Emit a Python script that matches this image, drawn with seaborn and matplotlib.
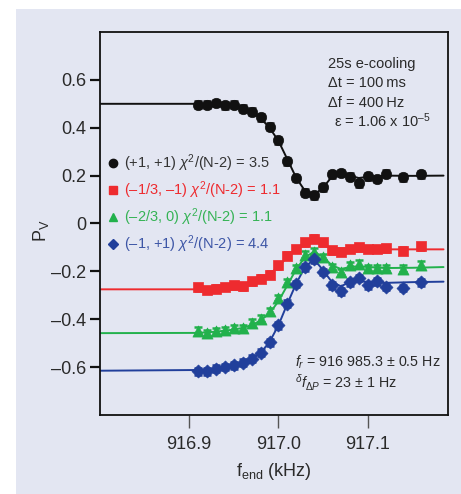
import numpy as np
import pandas as pd
import matplotlib
matplotlib.use("Agg")
import matplotlib.pyplot as plt
from matplotlib.lines import Line2D
from matplotlib.patches import Rectangle
import seaborn as sns

# ---------------- data ----------------
f_meas = [916.91, 916.92, 916.93, 916.94, 916.95, 916.96, 916.97, 916.98, 916.99,
          917.00, 917.01, 917.02, 917.03, 917.04, 917.05, 917.06, 917.07, 917.08,
          917.09, 917.10, 917.11, 917.12, 917.14, 917.16]

p_black = [0.497, 0.497, 0.503, 0.493, 0.496, 0.479, 0.467, 0.444, 0.404, 0.347,
           0.260, 0.190, 0.129, 0.117, 0.151, 0.206, 0.211, 0.196, 0.168, 0.197,
           0.186, 0.208, 0.193, 0.206]
p_red = [-0.266, -0.278, -0.273, -0.265, -0.259, -0.262, -0.241, -0.231, -0.214, -0.174,
         -0.135, -0.106, -0.078, -0.064, -0.079, -0.112, -0.117, -0.107, -0.100, -0.107,
         -0.107, -0.104, -0.113, -0.096]
p_green = [-0.447, -0.457, -0.451, -0.446, -0.436, -0.436, -0.415, -0.397, -0.367, -0.311,
           -0.246, -0.186, -0.130, -0.117, -0.140, -0.182, -0.203, -0.175, -0.168, -0.186,
           -0.186, -0.186, -0.189, -0.172]
p_blue = [-0.617, -0.617, -0.607, -0.599, -0.592, -0.582, -0.564, -0.540, -0.496, -0.426,
          -0.335, -0.253, -0.183, -0.149, -0.203, -0.258, -0.283, -0.246, -0.228, -0.258,
          -0.242, -0.265, -0.269, -0.246]

# fit curves
f_fit = [916.80, 916.91, 916.93, 916.95, 916.96, 916.97, 916.98, 916.99, 917.00,
         917.01, 917.02, 917.03, 917.04, 917.05, 917.06, 917.07, 917.08, 917.09,
         917.10, 917.12, 917.15, 917.185]
fit_black = [0.500, 0.500, 0.500, 0.493, 0.482, 0.466, 0.440, 0.400, 0.345,
             0.268, 0.190, 0.135, 0.120, 0.150, 0.196, 0.210, 0.200, 0.190,
             0.195, 0.200, 0.199, 0.200]
fit_red = [-0.275, -0.275, -0.272, -0.265, -0.258, -0.248, -0.233, -0.212, -0.180,
           -0.140, -0.105, -0.080, -0.068, -0.085, -0.108, -0.112, -0.108, -0.104,
           -0.106, -0.108, -0.108, -0.108]
fit_green = [-0.458, -0.457, -0.452, -0.443, -0.436, -0.425, -0.405, -0.375, -0.325,
             -0.258, -0.190, -0.140, -0.118, -0.140, -0.175, -0.190, -0.182, -0.178,
             -0.182, -0.186, -0.185, -0.182]
fit_blue = [-0.615, -0.612, -0.606, -0.594, -0.584, -0.568, -0.540, -0.495, -0.425,
            -0.335, -0.250, -0.180, -0.150, -0.195, -0.245, -0.262, -0.245, -0.238,
            -0.245, -0.248, -0.245, -0.243]

series = ["black", "red", "green", "blue"]
labels = [r"(+1, +1) $\chi^2$/(N-2) = 3.5",
          r"(–1/3, –1) $\chi^2$/(N-2) = 1.1",
          r"(–2/3, 0) $\chi^2$/(N-2) = 1.1",
          r"(–1, +1) $\chi^2$/(N-2) = 4.4"]
err = 0.014

x_ticks = [916.9, 917.0, 917.1]
x_ticklabels = ["916.9", "917.0", "917.1"]
y_ticks = [-0.6, -0.4, -0.2, 0.0, 0.2, 0.4, 0.6]
y_ticklabels = ["–0.6", "–0.4", "–0.2", "0", "0.2", "0.4", "0.6"]

# ---------------- style ----------------
sns.set_theme(style="white")
plt.rcParams["font.family"] = ["Liberation Sans", "DejaVu Sans"]
plt.rcParams["mathtext.fontset"] = "custom"
plt.rcParams["mathtext.rm"] = "Liberation Sans"
plt.rcParams["mathtext.it"] = "Liberation Sans:italic"
plt.rcParams["mathtext.bf"] = "Liberation Sans:bold"

bg = "#e3e6f2"
colors = {"black": "#111111", "red": "#ee2b2f", "green": "#22b14c", "blue": "#213f9b"}
text_colors = {"black": "#333333", "red": "#ee2b2f", "green": "#35b355", "blue": "#3d56a6"}
markers = {"black": "o", "red": "s", "green": "^", "blue": "D"}
msizes = {"black": 56, "red": 46, "green": 64, "blue": 44}

fits = pd.DataFrame({
    "f": f_fit * 4,
    "P": fit_black + fit_red + fit_green + fit_blue,
    "series": sum([[s] * len(f_fit) for s in series], []),
})

fig = plt.figure(figsize=(4.61, 4.94), dpi=100)
fig.patch.set_facecolor("white")
fig.patches.append(Rectangle((16 / 461, 0), 1 - 16 / 461, 1 - 9 / 494,
                             transform=fig.transFigure, facecolor=bg,
                             edgecolor="none", zorder=-10))
ax = fig.add_axes([100 / 461, 1 - 415 / 494, 348 / 461, 383 / 494])
ax.set_zorder(5)
ax.set_facecolor(bg)

sns.lineplot(data=fits, x="f", y="P", hue="series", palette=colors,
             hue_order=series, ax=ax, legend=False, linewidth=1.4,
             estimator=None, sort=False, zorder=2)
for s, yv in zip(series, [p_black, p_red, p_green, p_blue]):
    ax.errorbar(f_meas, yv, yerr=err, fmt="none", ecolor=colors[s],
                elinewidth=1.8, capsize=3.2, capthick=1.8, zorder=3)
    sns.scatterplot(x=f_meas, y=yv, color=colors[s], marker=markers[s],
                    s=msizes[s], edgecolor=colors[s], linewidth=0.5,
                    ax=ax, zorder=4, legend=False)

ax.set_xlim(916.8, 917.19)
ax.set_ylim(-0.8, 0.8)
ax.set_xticks(x_ticks)
ax.set_xticklabels(x_ticklabels)
ax.set_yticks(y_ticks)
ax.set_yticklabels(y_ticklabels)
ax.tick_params(axis="x", direction="out", length=9, width=1.0, color="#555555",
               labelsize=13, labelcolor="#2a2a2a", pad=6, bottom=True)
ax.tick_params(axis="y", direction="out", length=7, width=1.6, color="#111111",
               labelsize=13, labelcolor="#2a2a2a", pad=3, left=True)
for sp in ax.spines.values():
    sp.set_visible(True)
    sp.set_color("#111111")
    sp.set_linewidth(1.3)

ax.set_xlabel(r"f$_{\rm end}$ (kHz)", fontsize=13, color="#2a2a2a", labelpad=6)
ax.set_ylabel(r"P$_{\rm V}$", fontsize=13, color="#2a2a2a")
ax.yaxis.set_label_coords(-0.142, 0.48)

handles = [Line2D([], [], linestyle="none", marker=markers[s], color=colors[s],
                  markersize=6 if s != "blue" else 5.5) for s in series]
leg = ax.legend(handles, labels, loc="upper left", bbox_to_anchor=(0.0, 0.700),
                frameon=False, fontsize=10.5, handletextpad=0.25,
                handlelength=1.0, labelspacing=0.36, borderaxespad=0)
for t, s in zip(leg.get_texts(), series):
    t.set_color(text_colors[s])

ax.text(0.655, 0.935, "25s e-cooling\nΔt = 100\u2009ms\nΔf = 400\u2009Hz",
        transform=ax.transAxes, fontsize=10.5, color="#2a2a2a",
        va="top", ha="left", linespacing=1.5)
ax.text(0.672, 0.768, r"ε = 1.06 x 10$^{–5}$", transform=ax.transAxes,
        fontsize=10.5, color="#2a2a2a", va="center", ha="left")
ax.text(0.56, 0.138, r"$f_r$ = 916 985.3 ± 0.5 Hz", transform=ax.transAxes,
        fontsize=10.3, color="#2a2a2a", va="center", ha="left")
ax.text(0.56, 0.083, r"$^{\delta}f_{\Delta P}$ = 23 ± 1 Hz", transform=ax.transAxes,
        fontsize=10.3, color="#2a2a2a", va="center", ha="left")

fig.savefig("out.png", dpi=100, facecolor=fig.get_facecolor())
